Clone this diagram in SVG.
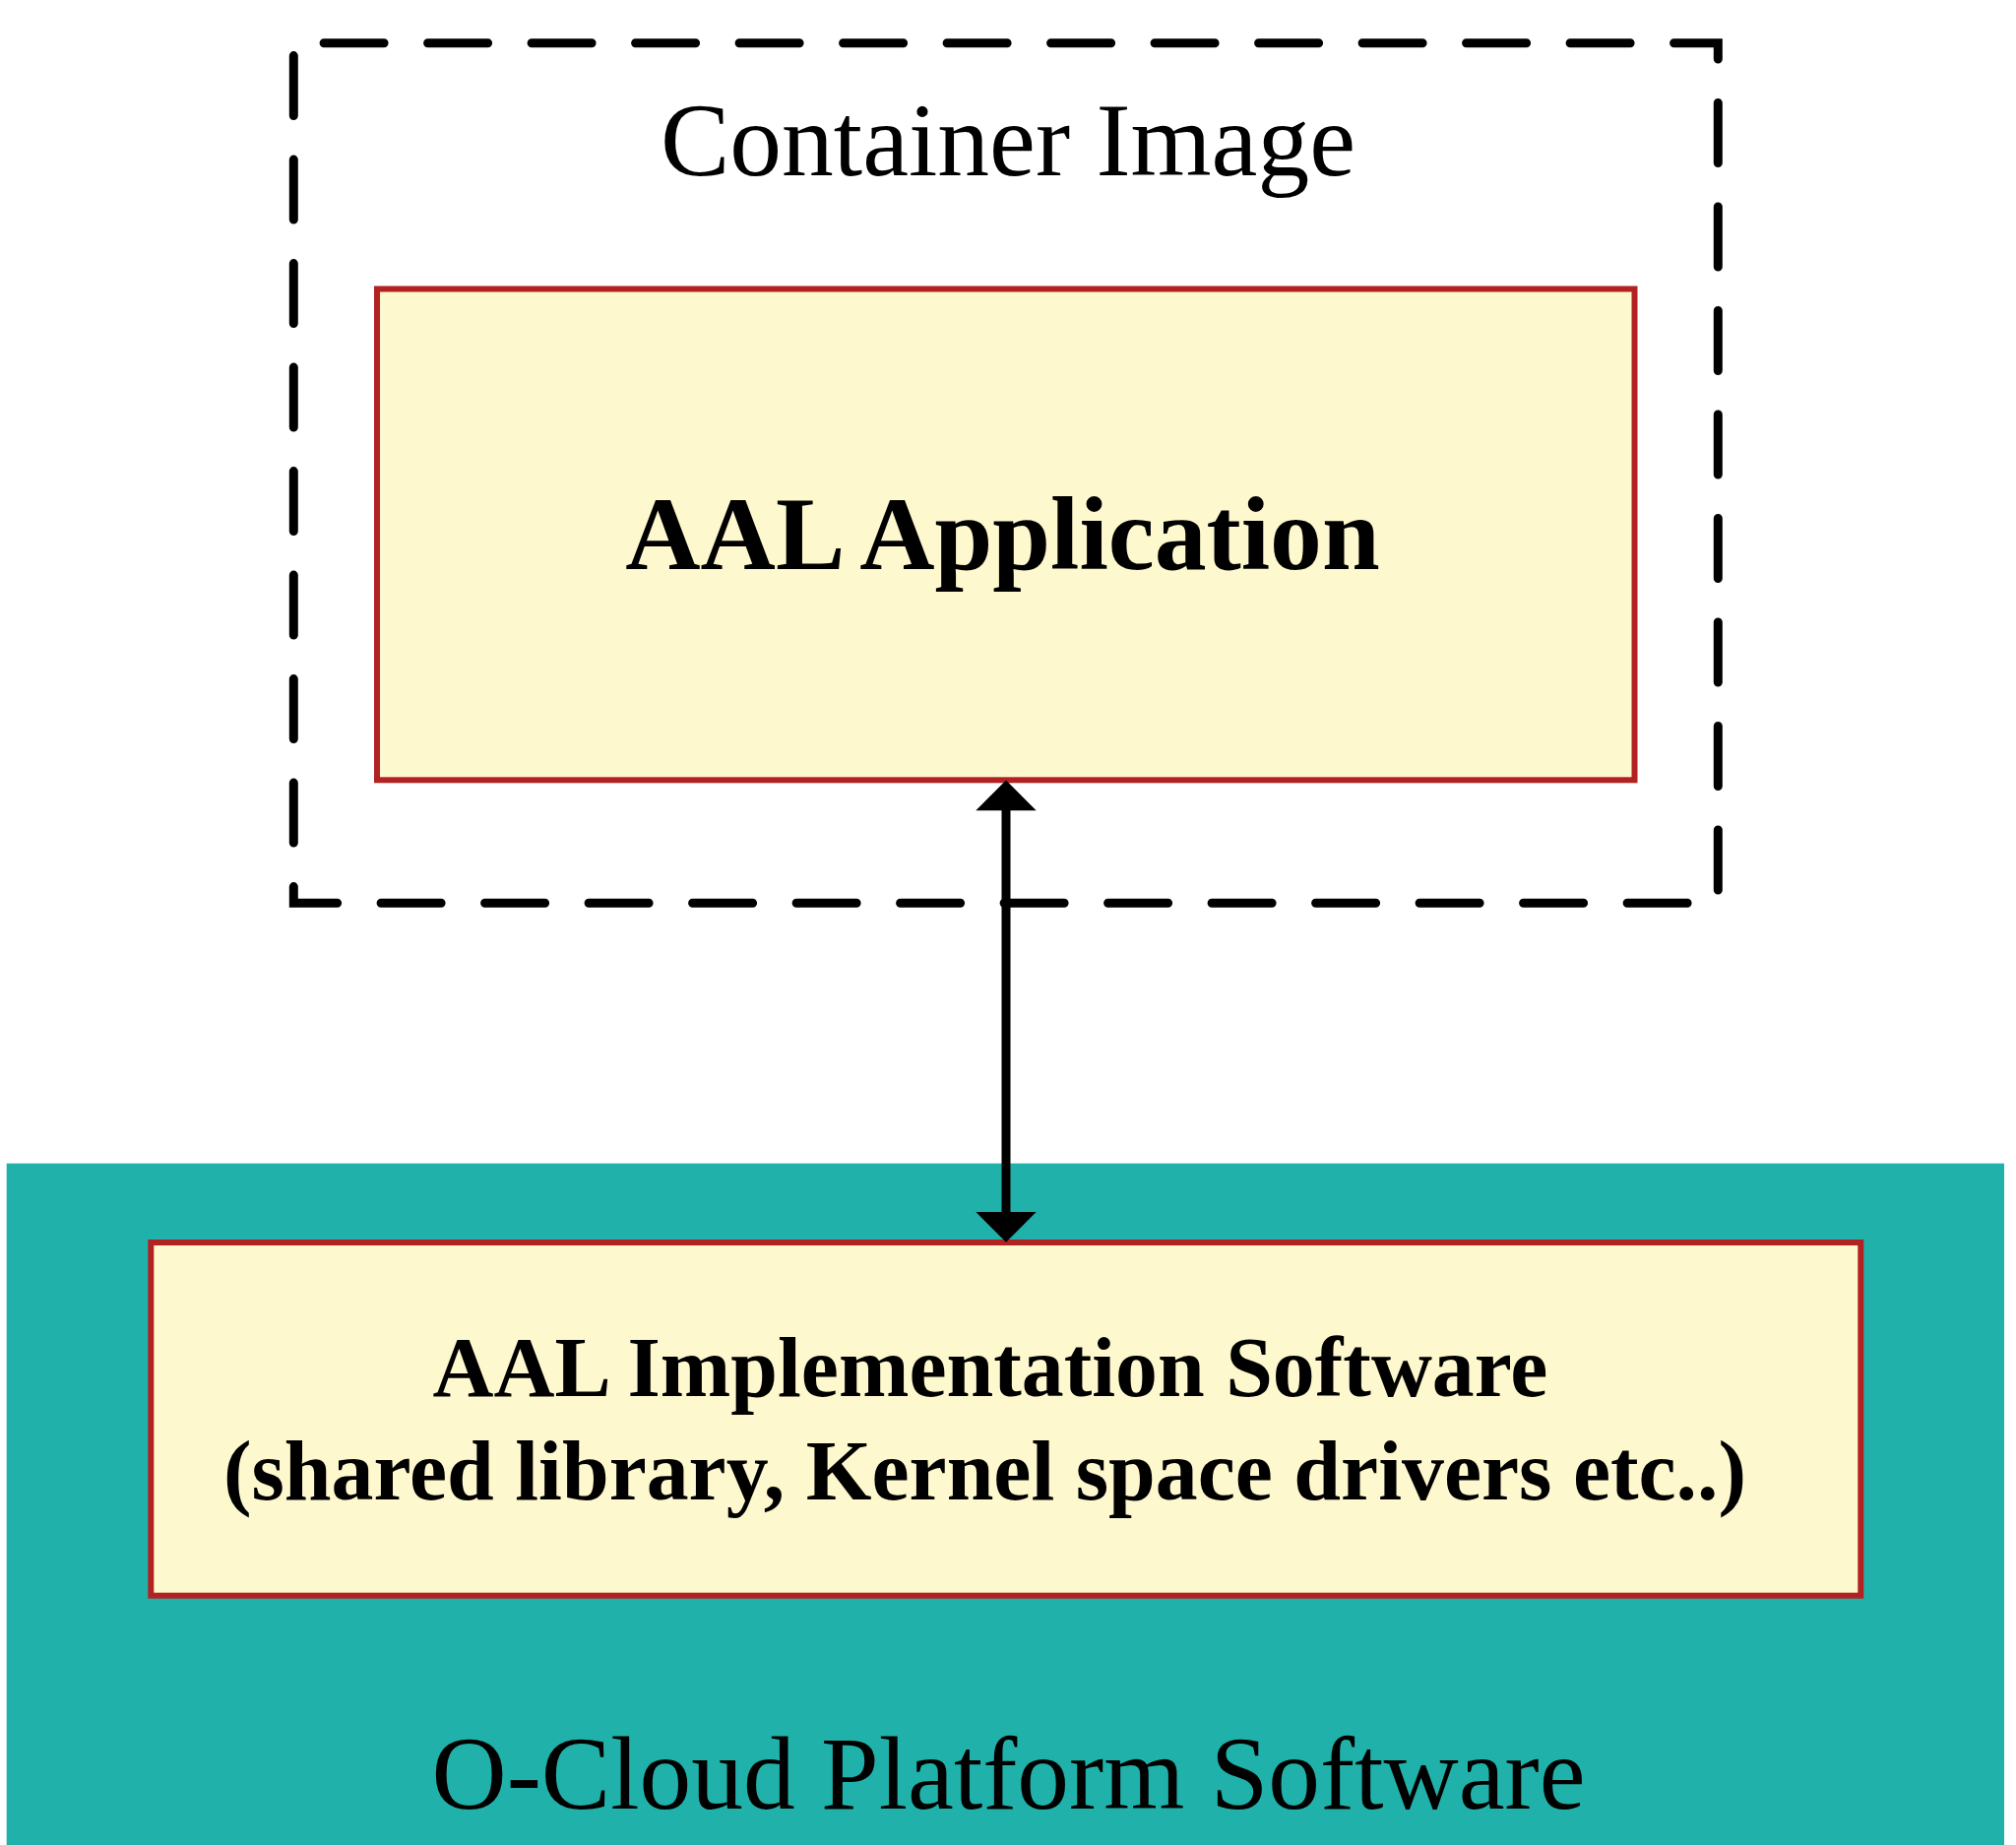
<svg xmlns="http://www.w3.org/2000/svg" width="2048" height="1874" viewBox="0 0 2048 1874">
<style>
.box{fill:#FEF8CE;stroke:#B22222;stroke-width:6;stroke-linejoin:miter}
.serif{font-family:"Liberation Serif","Times New Roman",serif;fill:#000}
.bold{font-weight:bold}
.conn{stroke:#000;stroke-width:9;fill:none}
.head{fill:#000}
</style>
<rect width="2048" height="1874" fill="#FFFFFF"/>
<g id="platform">
<rect x="6.7" y="1181.7" width="2029.3" height="700" fill="#20B2AA"/>
<text class="serif" x="1024.5" y="1837" font-size="105.5" text-anchor="middle">O-Cloud Platform Software</text>
</g>
<g id="container">
<path d="M298.3,43.7 H1745.3 V917.3 H298.3 Z" fill="none" stroke="#000" stroke-width="9" stroke-dasharray="61 44.5" stroke-dashoffset="74.7" stroke-linecap="round" stroke-linejoin="miter"/>
<text class="serif" x="1024" y="178" font-size="105.5" text-anchor="middle">Container Image</text>
</g>
<g id="aal-application">
<rect class="box" x="383" y="293.5" width="1277.5" height="498.8"/>
<text class="serif bold" x="1018.5" y="578" font-size="105.7" text-anchor="middle">AAL Application</text>
</g>
<g id="aal-implementation">
<rect class="box" x="153.3" y="1262" width="1737" height="358.7"/>
<text class="serif bold" x="1006" y="1418" font-size="85.8" text-anchor="middle">AAL Implementation Software</text>
<text class="serif bold" x="1000.5" y="1523" font-size="85.8" text-anchor="middle">(shared library, Kernel space drivers etc..)</text>
</g>
<g id="connectors">
<line class="conn" x1="1022" y1="820" x2="1022" y2="1234"/>
<polygon class="head" points="1022,792.5 1052.7,823.3 991.3,823.3"/>
<polygon class="head" points="1022,1261.7 1052.7,1231 991.3,1231"/>
</g>
</svg>
